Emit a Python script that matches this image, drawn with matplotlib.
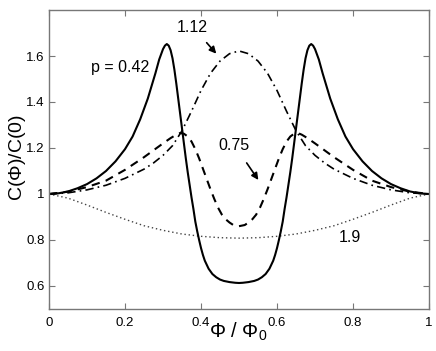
import matplotlib
matplotlib.use("Agg")
import matplotlib.pyplot as plt

plt.rcParams['font.family'] = ['Liberation Sans', 'DejaVu Sans']
plt.rcParams['mathtext.fontset'] = 'custom'
plt.rcParams['mathtext.rm'] = 'Liberation Sans'
plt.rcParams['mathtext.it'] = 'Liberation Sans'

# p = 0.42 (solid)
phi_a = [0, .025, .05, .075, .1, .125, .15, .175, .2, .22,
         .24, .26, .27, .28, .29, .30, .305, .31, .315, .32,
         .325, .33, .335, .34, .345, .35, .355, .36, .365, .37,
         .375, .38, .385, .39, .395, .40, .405, .41, .42, .43,
         .44, .45, .46, .475, .49, .5,
         .51, .525, .54, .55, .56, .57, .58, .59, .595, .60,
         .605, .61, .615, .62, .625, .63, .635, .64, .645, .65,
         .655, .66, .665, .67, .675, .68, .685, .69, .695, .70,
         .71, .72, .73, .74, .76, .78, .80, .825, .85, .875,
         .9, .925, .95, .975, 1.0]
c_a = [1.0, 1.003, 1.011, 1.025, 1.043, 1.068, 1.10, 1.142, 1.195, 1.25,
       1.325, 1.415, 1.47, 1.525, 1.585, 1.63, 1.645, 1.652, 1.645, 1.625,
       1.59, 1.54, 1.48, 1.415, 1.35, 1.285, 1.22, 1.155, 1.095, 1.04,
       0.985, 0.935, 0.88, 0.838, 0.80, 0.765, 0.735, 0.71, 0.675, 0.652,
       0.638, 0.628, 0.622, 0.617, 0.614, 0.613,
       0.614, 0.617, 0.622, 0.628, 0.638, 0.652, 0.675, 0.71, 0.735, 0.765,
       0.80, 0.838, 0.88, 0.935, 0.985, 1.04, 1.095, 1.155, 1.22, 1.285,
       1.35, 1.415, 1.48, 1.54, 1.59, 1.625, 1.645, 1.652, 1.645, 1.63,
       1.585, 1.525, 1.47, 1.415, 1.325, 1.25, 1.195, 1.142, 1.10, 1.068,
       1.043, 1.025, 1.011, 1.003, 1.0]

# p = 0.75 (dashed)
phi_b = [0, .05, .1, .15, .2, .25, .275, .3, .32, .335,
         .345, .355, .365, .375, .385, .395, .405, .415, .425, .435,
         .445, .455, .465, .475, .485, .5,
         .515, .525, .535, .545, .555, .565, .575, .585, .595, .605,
         .615, .625, .635, .645, .655, .665, .68, .7, .725, .75,
         .8, .85, .9, .95, 1.0]
c_b = [1.0, 1.01, 1.03, 1.058, 1.105, 1.16, 1.19, 1.22, 1.243, 1.258,
       1.265, 1.262, 1.25, 1.228, 1.195, 1.155, 1.11, 1.065, 1.02, 0.978,
       0.94, 0.91, 0.89, 0.876, 0.865, 0.86,
       0.865, 0.876, 0.89, 0.91, 0.94, 0.978, 1.02, 1.065, 1.11, 1.155,
       1.195, 1.228, 1.25, 1.262, 1.265, 1.258, 1.243, 1.22, 1.19, 1.16,
       1.105, 1.058, 1.03, 1.01, 1.0]

# p = 1.12 (dash-dot)
phi_c = [0, .05, .1, .15, .2, .25, .275, .3, .325, .35,
         .375, .4, .425, .45, .475, .5,
         .525, .55, .575, .6, .625, .65, .675, .7, .725, .75,
         .8, .85, .9, .95, 1.0]
c_c = [1.0, 1.005, 1.018, 1.038, 1.068, 1.108, 1.135, 1.168, 1.21, 1.275,
       1.36, 1.45, 1.525, 1.578, 1.61, 1.622,
       1.61, 1.578, 1.525, 1.45, 1.36, 1.275, 1.21, 1.168, 1.135, 1.108,
       1.068, 1.038, 1.018, 1.005, 1.0]

# p = 1.9 (dotted)
phi_d = [0, 0.05, 0.1, 0.15, 0.2, 0.25, 0.3, 0.35, 0.4, 0.45, 0.5,
         0.55, 0.6, 0.65, 0.7, 0.75, 0.8, 0.85, 0.9, 0.95, 1.0]
c_d = [1.0, 0.982, 0.952, 0.92, 0.89, 0.862, 0.842, 0.826, 0.816, 0.81, 0.808,
       0.81, 0.816, 0.826, 0.842, 0.862, 0.89, 0.92, 0.952, 0.982, 1.0]

xticks = [0, 0.2, 0.4, 0.6, 0.8, 1]
xticklabels = ['0', '0.2', '0.4', '0.6', '0.8', '1']
yticks = [0.6, 0.8, 1.0, 1.2, 1.4, 1.6]
yticklabels = ['0.6', '0.8', '1', '1.2', '1.4', '1.6']

fig = plt.figure(figsize=(4.36, 3.51), dpi=100)
ax = fig.add_axes([0.1124, 0.1197, 0.8716, 0.8518])

ax.plot(phi_d, c_d, color='#444444', lw=1.0, linestyle=(0, (1, 2)))
ax.plot(phi_c, c_c, color='black', lw=1.2, linestyle=(0, (5, 2.5, 1, 2.5)))
ax.plot(phi_b, c_b, color='black', lw=1.5, linestyle=(0, (4, 3)))
ax.plot(phi_a, c_a, color='black', lw=1.5)

ax.set_xlim(0, 1)
ax.set_ylim(0.5, 1.8)
ax.set_xticks(xticks)
ax.set_xticklabels(xticklabels)
ax.set_yticks(yticks)
ax.set_yticklabels(yticklabels)
ax.tick_params(direction='in', top=True, right=True, length=4, width=0.8,
               color='#777777', labelsize=9.5)
ax.tick_params(axis='x', pad=6)
ax.tick_params(axis='y', pad=3)
for s in ax.spines.values():
    s.set_color('#777777')
    s.set_linewidth(1.0)

fig.text(238 / 436, 1 - 338 / 351, r'$\Phi$ / $\Phi_0$', fontsize=14.5,
         ha='center', va='baseline')
fig.text(17 / 436, 1 - 158 / 351, r'C($\Phi$)/C(0)', fontsize=14,
         ha='center', va='center', rotation=90)

ax.text(0.186, 1.55, 'p = 0.42', fontsize=11.5, ha='center', va='center')
ax.text(0.378, 1.722, '1.12', fontsize=11.5, ha='center', va='center')
ax.text(0.486, 1.211, '0.75', fontsize=11.5, ha='center', va='center')
ax.text(0.792, 0.809, '1.9', fontsize=11.5, ha='center', va='center')

ax.annotate('', xy=(0.445, 1.601), xytext=(0.41, 1.667),
            arrowprops=dict(arrowstyle='-|>', color='black', lw=1.2, mutation_scale=10))
ax.annotate('', xy=(0.555, 1.051), xytext=(0.516, 1.145),
            arrowprops=dict(arrowstyle='-|>', color='black', lw=1.2, mutation_scale=10))

fig.savefig('out.png', dpi=100)
